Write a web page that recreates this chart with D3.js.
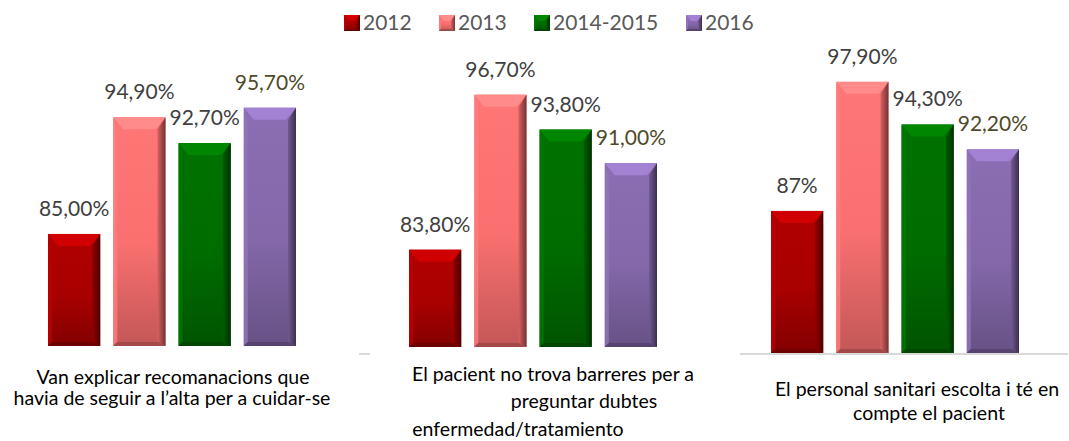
<!DOCTYPE html>
<html>
<head>
<meta charset="utf-8">
<script src="https://cdn.jsdelivr.net/npm/d3@7"></script>
<style>
  body { margin: 0; background: #fff; }
  svg { display: block; font-family: Lato, "Open Sans", sans-serif; }
</style>
</head>
<body>
<svg id="chart" width="1069" height="441"></svg>
<script>
// series + values (one value per panel)
const series = ["2012", "2013", "2014-2015", "2016"];
const values2012 = [85.0, 83.8, 87.0];
const values2013 = [94.9, 96.7, 97.9];
const values2014 = [92.7, 93.8, 94.3];
const values2016 = [95.7, 91.0, 92.2];

const labels2012 = ["85,00%", "83,80%", "87%"];
const labels2013 = ["94,90%", "96,70%", "97,90%"];
const labels2014 = ["92,70%", "93,80%", "94,30%"];
const labels2016 = ["95,70%", "91,00%", "92,20%"];

// category text, one list of lines per panel
const categories = [
  ["Van explicar recomanacions que", "havia de seguir a l’alta per a cuidar-se"],
  ["El pacient no trova barreres per a", "preguntar dubtes", "enfermedad/tratamiento"],
  ["El personal sanitari escolta i té en", "compte el pacient"]
];

const seriesValues = [values2012, values2013, values2014, values2016];
const seriesLabels = [labels2012, labels2013, labels2014, labels2016];
const seriesColors = ["#a80000", "#fa7070", "#006c00", "#8468aa"];
const labelColors = ["#404040", "#404040", "#404040", "#4f4a2a"];

// layout of the three small charts
const panels = [
  { x0: 48, x1: 296, base: 346, top: 57, min: 75.5,
    lines: [[173, 384], [172, 405]] },
  { x0: 409, x1: 657, base: 347, top: 55, min: 75.7,
    lines: [[553, 381], [584, 408], [518, 436]] },
  { x0: 771, x1: 1019, base: 353, top: 57, min: 75.0,
    lines: [[917, 396], [929, 420]] }
];

const svg = d3.select("#chart");
const defs = svg.append("defs");

// gradients per series
seriesColors.forEach((c, i) => {
  const base = d3.color(c);
  const v = defs.append("linearGradient")
    .attr("id", "body" + i).attr("x1", 0).attr("y1", 0).attr("x2", 0).attr("y2", 1);
  v.append("stop").attr("offset", "0%").attr("stop-color", base.brighter(0.15));
  v.append("stop").attr("offset", "55%").attr("stop-color", base);
  v.append("stop").attr("offset", "100%").attr("stop-color", base.darker(0.7));

  const r = defs.append("linearGradient")
    .attr("id", "right" + i).attr("x1", 0).attr("y1", 0).attr("x2", 1).attr("y2", 0);
  r.append("stop").attr("offset", "0%").attr("stop-color", base.darker(0.4));
  r.append("stop").attr("offset", "100%").attr("stop-color", base.darker(2.2));
});

// bevelled bar
function bevelBar(g, x, y, w, h, i, b) {
  const c = d3.color(seriesColors[i]);
  g.append("rect").attr("x", x).attr("y", y).attr("width", w).attr("height", h)
    .attr("fill", `url(#body${i})`);
  const bt = Math.min(b * 1.2, h / 2);
  g.append("polygon")
    .attr("points", [[x, y], [x + w, y], [x + w - b, y + bt], [x + b, y + bt]].join(" "))
    .attr("fill", c.brighter(0.6));
  g.append("polygon")
    .attr("points", [[x, y], [x + b * 0.4, y + bt], [x + b * 0.4, y + h - b * 0.4], [x, y + h]].join(" "))
    .attr("fill", c.brighter(0.3)).attr("opacity", 0.8);
  g.append("polygon")
    .attr("points", [[x + w, y], [x + w, y + h], [x + w - b * 0.8, y + h - b * 0.4], [x + w - b * 0.8, y + bt]].join(" "))
    .attr("fill", `url(#right${i})`);
  g.append("polygon")
    .attr("points", [[x, y + h], [x + w, y + h], [x + w - b * 0.8, y + h - b * 0.4], [x + b * 0.4, y + h - b * 0.4]].join(" "))
    .attr("fill", c.darker(1.2));
}

panels.forEach((p, pi) => {
  const x = d3.scaleBand().domain(series).range([p.x0, p.x1]).paddingInner(0.2);
  const y = d3.scaleLinear().domain([p.min, 100]).range([p.base, p.top]);
  const g = svg.append("g").attr("class", "panel");

  series.forEach((s, si) => {
    const v = seriesValues[si][pi];
    const bx = x(s), by = y(v);
    bevelBar(g.append("g"), bx, by, x.bandwidth(), p.base - by, si, 10);
    g.append("text")
      .attr("x", bx + x.bandwidth() / 2)
      .attr("y", by - 18)
      .attr("text-anchor", "middle")
      .attr("fill", labelColors[si])
      .style("font-size", "21px")
      .text(seriesLabels[si][pi]);
  });

  categories[pi].forEach((line, li) => {
    svg.append("text")
      .attr("x", p.lines[li][0])
      .attr("y", p.lines[li][1])
      .attr("text-anchor", "middle")
      .attr("fill", "#000")
      .style("font-size", "19.5px")
      .text(line);
  });
});

// visible baseline pieces
svg.append("line").attr("x1", 740).attr("x2", 1068).attr("y1", 354).attr("y2", 354)
  .attr("stroke", "#d9d9d9").attr("stroke-width", 2);
svg.append("line").attr("x1", 359).attr("x2", 370).attr("y1", 354).attr("y2", 354)
  .attr("stroke", "#d9d9d9").attr("stroke-width", 2);

// legend
const legendX = [344, 439, 534, 686];
const legend = svg.append("g").attr("class", "legend");
series.forEach((s, i) => {
  const item = legend.append("g").attr("transform", `translate(${legendX[i]},15)`);
  bevelBar(item, 0, 0, 16, 16, i, 5);
  item.append("text")
    .attr("x", 19)
    .attr("y", 15)
    .attr("fill", "#595959")
    .style("font-size", "21px")
    .text(s);
});
</script>
</body>
</html>
